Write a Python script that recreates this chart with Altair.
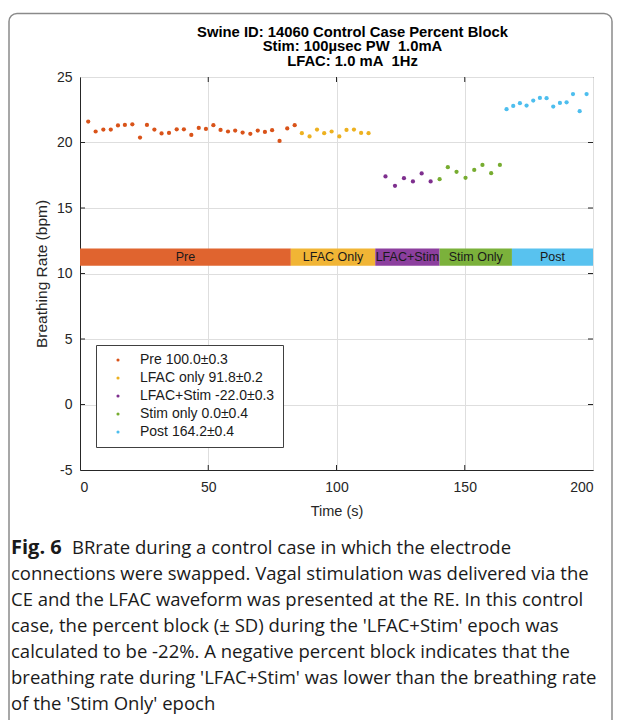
import altair as alt
import pandas as pd

# ---------------- data ----------------
pre_t = [3.2, 6.1, 9.1, 12.0, 14.8, 17.5, 20.4, 23.4, 26.1, 29.0, 31.8, 34.7, 37.7, 40.5, 43.4,
         46.3, 49.1, 52.0, 54.8, 57.7, 60.5, 63.4, 66.4, 69.3, 72.1, 74.9, 77.8, 80.8, 83.7]
pre_v = [21.60, 20.84, 20.99, 20.99, 21.30, 21.34, 21.39, 20.38, 21.34, 20.99, 20.69, 20.73, 21.01,
         21.01, 20.58, 21.11, 21.04, 21.32, 20.96, 20.84, 20.91, 20.76, 20.66, 20.91, 20.81, 20.94,
         20.12, 21.07, 21.32]
lfac_t = [86.5, 89.5, 92.4, 95.2, 98.1, 101.1, 103.9, 106.8, 109.6, 112.5]
lfac_v = [20.71, 20.46, 20.99, 20.71, 20.84, 20.46, 20.96, 20.99, 20.73, 20.71]
both_t = [119.1, 122.8, 126.3, 129.8, 133.2, 136.7]
both_v = [17.41, 16.69, 17.28, 17.03, 17.64, 17.03]
stim_t = [140.2, 143.4, 146.8, 150.3, 153.7, 156.9, 160.3, 163.7]
stim_v = [17.20, 18.12, 17.76, 17.30, 17.91, 18.29, 17.66, 18.29]
post_t = [166.3, 168.9, 171.5, 174.1, 176.7, 179.3, 181.9, 184.5, 187.1, 189.7, 192.2, 194.8, 197.5]
post_v = [22.54, 22.79, 23.00, 22.82, 23.20, 23.40, 23.38, 22.74, 23.02, 23.07, 23.70, 22.39, 23.70]

legend_labels = ["Pre 100.0±0.3", "LFAC only 91.8±0.2", "LFAC+Stim -22.0±0.3",
                 "Stim only 0.0±0.4", "Post 164.2±0.4"]
point_colors = ["#D95319", "#EDB120", "#7E2F8E", "#77AC30", "#4DBEEE"]

epoch_names = ["Pre", "LFAC Only", "LFAC+Stim", "Stim Only", "Post"]
epoch_start = [0, 82.2, 115.1, 140.2, 168.4]
epoch_end = [82.2, 115.1, 140.2, 168.4, 200]
epoch_colors = ["#E0642F", "#F1B535", "#8C3F9E", "#7BB13B", "#58C2EF"]
bar_low, bar_high = 10.6, 11.9

x_ticks = [0, 50, 100, 150, 200]
y_ticks = [-5, 0, 5, 10, 15, 20, 25]

title_lines = ["Swine ID: 14060 Control Case Percent Block",
               "Stim: 100µsec PW\u00a0 1.0mA",
               "LFAC: 1.0 mA\u00a0 1Hz"]

caption_bold = "Fig. 6"
caption_lines = [
    "BRrate during a control case in which the electrode",
    "connections were swapped. Vagal stimulation was delivered via the",
    "CE and the LFAC waveform was presented at the RE. In this control",
    "case, the percent block (\u00b1 SD) during the 'LFAC+Stim' epoch was",
    "calculated to be -22%. A negative percent block indicates that the",
    "breathing rate during 'LFAC+Stim' was lower than the breathing rate",
    "of the 'Stim Only' epoch",
]

# ---------------- tables ----------------
rows = []
for lab, ts, vs in zip(legend_labels, [pre_t, lfac_t, both_t, stim_t, post_t],
                       [pre_v, lfac_v, both_v, stim_v, post_v]):
    for t, v in zip(ts, vs):
        rows.append({"t": t, "v": v, "series": lab})
pts = pd.DataFrame(rows)

epochs = pd.DataFrame({"name": epoch_names, "x1": epoch_start, "x2": epoch_end,
                       "col": epoch_colors,
                       "mid": [(a + b) / 2 for a, b in zip(epoch_start, epoch_end)],
                       "lo": bar_low, "hi": bar_high,
                       "ym": (bar_low + bar_high) / 2})

W, H = 513, 393

ttl = pd.DataFrame({"line": title_lines, "i": list(range(len(title_lines)))})
ttl["px"] = W / 2 + 16
ttl["py"] = -44.5 + 14.9 * ttl["i"]

cap = pd.DataFrame({"line": caption_lines, "i": list(range(len(caption_lines)))})
cap["px"] = [-8] + [-69] * (len(caption_lines) - 1)
cap["py"] = 470.5 + 26 * cap["i"]

# inward tick marks (MATLAB style) built from the tick arrays
XT = 5 / 2.565   # 5 px in data units on x
YT = 5 / 13.1    # 5 px in data units on y
tk = []
for t in x_ticks[1:-1]:
    tk.append({"x": t, "x2": t, "y": -5, "y2": -5 + YT})
    tk.append({"x": t, "x2": t, "y": 25, "y2": 25 - YT})
for t in y_ticks[1:-1]:
    tk.append({"x": 0, "x2": XT, "y": t, "y2": t})
    tk.append({"x": 200, "x2": 200 - XT, "y": t, "y2": t})
ticks_df = pd.DataFrame(tk)

FONT = "Liberation Sans"

xscale = alt.Scale(domain=[0, 200], nice=False)
yscale = alt.Scale(domain=[-5, 25], nice=False)

frame = alt.Chart(alt.Data(values=[{}])).mark_rect(
    fillOpacity=0, stroke="#8a8a8a", strokeWidth=1.5, cornerRadius=8
).encode(x=alt.value(-71), x2=alt.value(532), y=alt.value(-63.5), y2=alt.value(700))

bars = alt.Chart(epochs).mark_rect().encode(
    x=alt.X("x1:Q", scale=xscale,
            axis=alt.Axis(values=x_ticks, title="Time (s)", labelExpr="'' + datum.value",
                          labelFontSize=14, titleFontSize=14.5)),
    x2="x2:Q",
    y=alt.Y("lo:Q", scale=yscale,
            axis=alt.Axis(values=y_ticks, title="Breathing Rate (bpm)",
                          labelExpr="'' + datum.value",
                          labelFontSize=14, titleFontSize=15.5)),
    y2="hi:Q",
    color=alt.Color("col:N", scale=None),
)

bar_text = alt.Chart(epochs).mark_text(font=FONT, fontSize=12.5, color="#1a1a1a").encode(
    x=alt.X("mid:Q", scale=xscale), y=alt.Y("ym:Q", scale=yscale), text="name:N"
)

tick_marks = alt.Chart(ticks_df).mark_rule(color="#262626", strokeWidth=1).encode(
    x=alt.X("x:Q", scale=xscale), x2="x2:Q",
    y=alt.Y("y:Q", scale=yscale), y2="y2:Q",
)

points = alt.Chart(pts).mark_circle(size=18, opacity=1).encode(
    x=alt.X("t:Q", scale=xscale),
    y=alt.Y("v:Q", scale=yscale),
    color=alt.Color("series:N", sort=legend_labels,
                    scale=alt.Scale(domain=legend_labels, range=point_colors),
                    legend=alt.Legend(title=None, orient="none", legendX=16, legendY=268,
                                      strokeColor="#404040", fillColor="white",
                                      padding=8, symbolType="circle", symbolSize=10,
                                      symbolOffset=7, labelOffset=15,
                                      labelFont=FONT, labelFontSize=14,
                                      labelColor="#1a1a1a", rowPadding=4,
                                      labelLimit=300)),
)

title_text = alt.Chart(ttl).mark_text(
    font=FONT, fontSize=14.8, fontWeight="bold", align="center", baseline="middle",
    color="black"
).encode(x=alt.X("px:Q", scale=None), y=alt.Y("py:Q", scale=None), text="line:N")

cap_text = alt.Chart(cap).mark_text(
    font="Open Sans", fontSize=18.5, align="left", baseline="middle", color="#1a1a1a"
).encode(x=alt.X("px:Q", scale=None), y=alt.Y("py:Q", scale=None), text="line:N")

cap_bold = alt.Chart(alt.Data(values=[{"s": caption_bold}])).mark_text(
    font="Open Sans", fontSize=20, fontWeight="bold", align="left", baseline="middle",
    color="#1a1a1a"
).encode(x=alt.value(-69), y=alt.value(470.5), text="s:N")

chart = alt.layer(frame, bars, bar_text, tick_marks, points, title_text,
                  cap_text, cap_bold).properties(
    width=W, height=H,
    autosize=alt.AutoSizeParams(type="none"),
    padding={"left": 72, "top": 69, "right": 21, "bottom": 250},
).configure_view(stroke="#262626", strokeWidth=1).configure_axis(
    labelFont=FONT, labelColor="#262626",
    titleFont=FONT, titleFontWeight="normal", titleColor="#262626",
    domainColor="#262626", tickSize=0, gridColor="#DEDEDE", grid=True,
).configure_axisX(labelPadding=10, titlePadding=10).configure_axisY(
    labelPadding=8, titlePadding=7
)

chart.save("out.html", embed_options={"renderer": "svg", "actions": False})
